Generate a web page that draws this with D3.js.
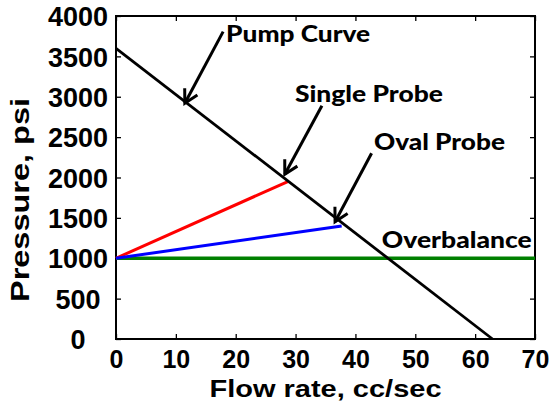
<!DOCTYPE html>
<html>
<head>
<meta charset="utf-8">
<script src="https://cdn.jsdelivr.net/npm/d3@7"></script>
<style>
  html, body { margin: 0; padding: 0; background: #fff; }
  svg { display: block; }
</style>
</head>
<body>
<svg id="chart" width="552" height="408"></svg>
<script>
// ---- data ----
const xTicks = [0, 10, 20, 30, 40, 50, 60, 70];
const yTicks = [0, 500, 1000, 1500, 2000, 2500, 3000, 3500, 4000];
const pumpCurve = [[0, 3600], [62.9, 0]];
const singleProbe = [[0, 1000], [28.7, 1950]];
const ovalProbe = [[0, 1000], [37.7, 1400]];
const overbalance = [[0, 1000], [70, 1000]];
const annLabels = ["Pump Curve", "Single Probe", "Oval Probe", "Overbalance"];
const annTextPos = [[18.4, 3682], [29.9, 2939], [43.1, 2341], [44.4, 1123]];
const annArrowFrom = [[17.9, 3806], [34.4, 2889], [42.7, 2300], null];
const annArrowTo = [[11.5, 2919], [28.2, 2040], [36.6, 1453], null];
const annWidths = [144, 148, 131, 150];

// ---- layout ----
const svg = d3.select("#chart");
const L = 116, R = 535, T = 16, B = 339;
const x = d3.scaleLinear().domain([0, 70]).range([L, R]);
const y = d3.scaleLinear().domain([0, 4000]).range([B, T]);
const tickFont = "'Liberation Sans', Arial, Helvetica, sans-serif";

// axes (inward ticks on all four sides)
const gx = svg.append("g").attr("transform", `translate(0,${B})`)
  .call(d3.axisBottom(x).tickValues(xTicks).tickSize(-5).tickSizeOuter(0).tickFormat(d3.format("d")));
gx.selectAll("text").attr("y", 29).attr("dy", 0);
const gy = svg.append("g").attr("transform", `translate(${L},0)`)
  .call(d3.axisLeft(y).tickValues(yTicks).tickSize(-5).tickSizeOuter(0).tickFormat(d3.format("d")));
gy.selectAll("text").attr("x", 78 - L).attr("text-anchor", "middle").attr("dy", "0.36em");
const gt = svg.append("g").attr("transform", `translate(0,${T})`)
  .call(d3.axisTop(x).tickValues(xTicks).tickSize(-5).tickSizeOuter(0).tickFormat(""));
const gr = svg.append("g").attr("transform", `translate(${R},0)`)
  .call(d3.axisRight(y).tickValues(yTicks).tickSize(-5).tickSizeOuter(0).tickFormat(""));
[gx, gy, gt, gr].forEach(g => {
  g.select(".domain").remove();
  g.selectAll("line").attr("stroke", "#000").attr("stroke-width", 1.3);
  g.selectAll("text").attr("fill", "#000").style("font-family", tickFont)
    .style("font-weight", "bold").style("font-size", "27px");
});
gx.selectAll("text").style("font-size", "25px");

// frame
svg.append("rect").attr("x", L).attr("y", T).attr("width", R - L).attr("height", B - T)
  .attr("fill", "none").attr("stroke", "#000").attr("stroke-width", 2);

// series
const line = d3.line().x(d => x(d[0])).y(d => y(d[1]));
svg.append("path").datum(overbalance).attr("d", line).attr("fill", "none")
  .attr("stroke", "#008000").attr("stroke-width", 3.5);
svg.append("path").datum(singleProbe).attr("d", line).attr("fill", "none")
  .attr("stroke", "#ff0000").attr("stroke-width", 3);
svg.append("path").datum(ovalProbe).attr("d", line).attr("fill", "none")
  .attr("stroke", "#0000ff").attr("stroke-width", 3);
svg.append("path").datum(pumpCurve).attr("d", line).attr("fill", "none")
  .attr("stroke", "#000").attr("stroke-width", 2.8);

// annotations
const annFont = "Lato, 'Open Sans', Calibri, sans-serif";
annLabels.forEach((lab, i) => {
  svg.append("text").attr("x", x(annTextPos[i][0])).attr("y", y(annTextPos[i][1]))
    .attr("textLength", annWidths[i]).attr("lengthAdjust", "spacingAndGlyphs")
    .style("font-family", annFont).style("font-weight", "900").style("font-size", "23px")
    .attr("fill", "#000").text(lab);
  if (annArrowFrom[i]) {
    const x1 = x(annArrowFrom[i][0]), y1 = y(annArrowFrom[i][1]);
    const x2 = x(annArrowTo[i][0]), y2 = y(annArrowTo[i][1]);
    svg.append("line").attr("x1", x1).attr("y1", y1).attr("x2", x2).attr("y2", y2)
      .attr("stroke", "#000").attr("stroke-width", 3);
    const ang = Math.atan2(y1 - y2, x1 - x2);
    const len = 15, spread = 0.5;
    const p = [
      [x2 + len * Math.cos(ang + spread), y2 + len * Math.sin(ang + spread)],
      [x2, y2],
      [x2 + len * Math.cos(ang - spread), y2 + len * Math.sin(ang - spread)]
    ];
    svg.append("path").attr("d", d3.line()(p)).attr("fill", "none")
      .attr("stroke", "#000").attr("stroke-width", 3).attr("stroke-linejoin", "miter");
  }
});

// axis titles
svg.append("text").attr("x", (L + R) / 2).attr("y", 397).attr("text-anchor", "middle")
  .attr("textLength", 232).attr("lengthAdjust", "spacingAndGlyphs")
  .style("font-family", tickFont).style("font-weight", "bold").style("font-size", "24px")
  .text("Flow rate, cc/sec");
svg.append("text").attr("transform", "translate(29,200) rotate(-90)").attr("text-anchor", "middle")
  .attr("textLength", 204).attr("lengthAdjust", "spacingAndGlyphs")
  .style("font-family", tickFont).style("font-weight", "bold").style("font-size", "25px")
  .text("Pressure, psi");
</script>
</body>
</html>
